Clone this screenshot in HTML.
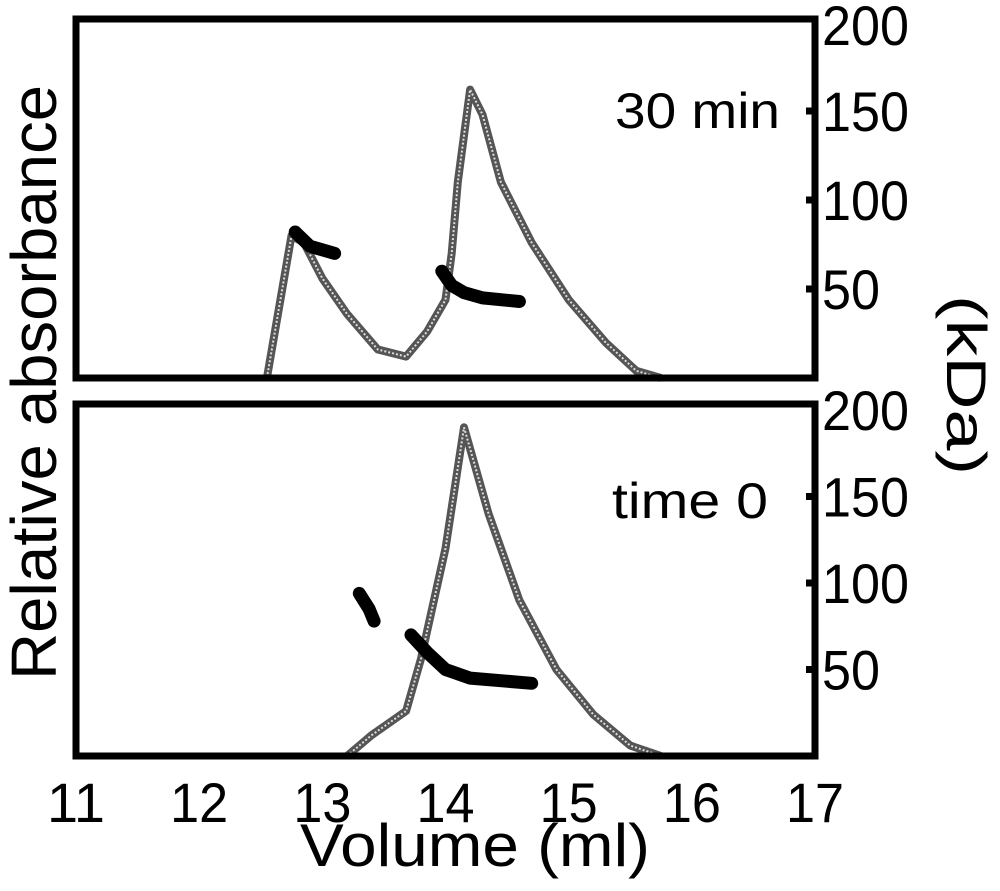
<!DOCTYPE html>
<html><head><meta charset="utf-8"><style>
html,body{margin:0;padding:0;background:#fff}
svg{display:block}
text{font-family:"Liberation Sans",Arial,sans-serif;fill:#000}
</style></head><body>
<svg id="chart" width="1000" height="891" viewBox="0 0 1000 891" xmlns="http://www.w3.org/2000/svg"></svg>
<script>
const xTicks=[11,12,13,14,15,16,17];
const massTicks=[50,100,150,200];
const topAbsVol=[12.55,12.65,12.75,12.85,13.0,13.2,13.45,13.68,13.85,14.0,14.05,14.1,14.2,14.3,14.45,14.7,15.0,15.3,15.55,15.75];
const topAbsVal=[0,20,40,38,28,18,8,6,13,22,35,55,81,74,55,38,22,10,2,0];
const topMassVol1=[12.78,12.9,13.1];
const topMassVal1=[82,74,70];
const topMassVol2=[13.97,14.05,14.15,14.3,14.6];
const topMassVal2=[60,52,48,45,43];
const botAbsVol=[13.2,13.4,13.68,13.8,14.0,14.15,14.35,14.6,14.9,15.2,15.5,15.75];
const botAbsVal=[0,6,13,28,60,95,70,45,25,12,3,0];
const botMassVol1=[13.3,13.38,13.42];
const botMassVal1=[94,85,78];
const botMassVol2=[13.72,13.85,14.0,14.2,14.7];
const botMassVal2=[70,60,50,45,42];

const svg=document.getElementById('chart');
const NS='http://www.w3.org/2000/svg';
function mk(tag,attrs,parent){const e=document.createElementNS(NS,tag);for(const k in attrs)e.setAttribute(k,attrs[k]);(parent||svg).appendChild(e);return e;}
const X0=76,X1=815;
const xs=v=>X0+(v-11)/(17-11)*(X1-X0);
const panels=[
 {name:'top',top:19,bot:378,yTop:22,label:'30 min',lx:615,ly:128,lw:165,av:topAbsVol,aa:topAbsVal,m:[[topMassVol1,topMassVal1],[topMassVol2,topMassVal2]]},
 {name:'bottom',top:404,bot:756,yTop:410,label:'time 0',lx:612,ly:518,lw:156,av:botAbsVol,aa:botAbsVal,m:[[botMassVol1,botMassVal1],[botMassVol2,botMassVal2]]}
];
panels.forEach(p=>{
 const g=mk('g',{});
 
 
 const ya=v=>p.bot-v/100*(p.bot-p.yTop);
 const ym=v=>p.bot-v/200*(p.bot-p.yTop);
 const d=p.av.map((v,i)=>(i?'L':'M')+xs(v).toFixed(1)+','+ya(p.aa[i]).toFixed(1)).join('');
 const tr=mk('path',{d:d,fill:'none',stroke:'#555','stroke-width':8,'stroke-linejoin':'round'},g);
 
 
 mk('path',{d:d,fill:'none',stroke:'#ddd','stroke-width':2,'stroke-dasharray':'2 2'},g);
 p.m.forEach((s,j)=>{
  const md=s[0].map((v,i)=>(i?'L':'M')+xs(v).toFixed(1)+','+ym(s[1][i]).toFixed(1)).join('');
  const ms=mk('path',{d:md,fill:'none',stroke:'#000','stroke-width':13,'stroke-linecap':'round','stroke-linejoin':'round'},g);
  
  
 });
 const fr=mk('rect',{x:X0,y:p.top,width:X1-X0,height:p.bot-p.top,fill:'none',stroke:'#000','stroke-width':7},g);
 
 
 massTicks.forEach(t=>{
  const y=ym(t);
  if(t<200){const tk=mk('line',{x1:X1-9,x2:X1,y1:y,y2:y,stroke:'#000','stroke-width':7},g);
   }
  const s=String(t);
  const tl=mk('text',{x:822,y:Math.max(y,p.top+6)+20,'font-size':56,textLength:29*s.length,lengthAdjust:'spacingAndGlyphs'},g);
  tl.textContent=s;
  
  
 });
 const lb=mk('text',{x:p.lx,y:p.ly,'font-size':50,textLength:p.lw,lengthAdjust:'spacingAndGlyphs'},g);
 lb.textContent=p.label;
 
 
});
xTicks.forEach(t=>{
 const s=String(t);
 const w=29*s.length;
 const tl=mk('text',{x:xs(t)-w/2,y:822,'font-size':56,textLength:w,lengthAdjust:'spacingAndGlyphs'});
 tl.textContent=s;
 
 
});
const xt=mk('text',{x:300,y:866,'font-size':60,textLength:350,lengthAdjust:'spacingAndGlyphs'});
xt.textContent='Volume (ml)';


const yt=mk('text',{x:-297,y:0,'font-size':64,textLength:595,lengthAdjust:'spacingAndGlyphs',transform:'translate(56,383) rotate(-90)'});
yt.textContent='Relative absorbance';


const y2=mk('text',{x:-90,y:0,'font-size':56,textLength:180,lengthAdjust:'spacingAndGlyphs',transform:'translate(947,385) rotate(90)'});
y2.textContent='(kDa)';


</script>
</body></html>
